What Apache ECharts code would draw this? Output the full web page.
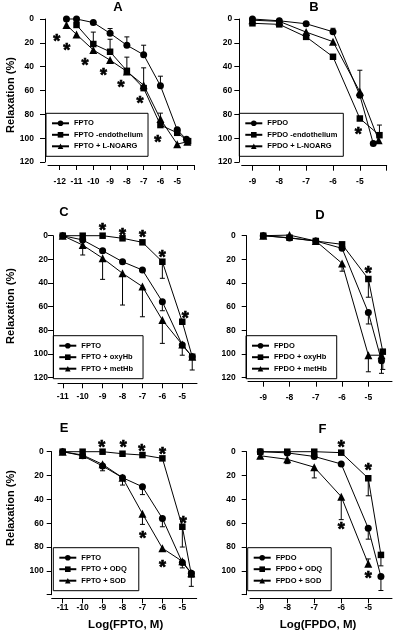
<!DOCTYPE html>
<html><head><meta charset="utf-8">
<script src="https://cdn.jsdelivr.net/npm/echarts@6/dist/echarts.min.js"></script>
<style>html,body{margin:0;padding:0;background:#fff}#c{width:395px;height:640px}</style>
</head><body><div id="c"></div>
<script>
// ---------- tick values ----------
const yTicks = [0, 20, 40, 60, 80, 100, 120];
const yLabelsABCD = [0, 20, 40, 60, 80, 100, 120];
const yLabelsEF = [0, 20, 40, 60, 80, 100];
const xTicksA = [-12, -11, -10, -9, -8, -7, -6, -5, -4];
const xLabelsA = [-12, -11, -10, -9, -8, -7, -6, -5];
const xTicksB = [-9, -8, -7, -6, -5, -4];
const xLabelsB = [-9, -8, -7, -6, -5];
const xTicksCE = [-11, -10, -9, -8, -7, -6, -5];
const xTicksDF = [-9, -8, -7, -6, -5];

// ---------- names ----------
const namesA = ['FPTO', 'FPTO -endothelium', 'FPTO + L-NOARG'];
const namesB = ['FPDO', 'FPDO -endothelium', 'FPDO + L-NOARG'];
const namesC = ['FPTO', 'FPTO + oxyHb', 'FPTO + metHb'];
const namesD = ['FPDO', 'FPDO + oxyHb', 'FPDO + metHb'];
const namesE = ['FPTO', 'FPTO + ODQ', 'FPTO + SOD'];
const namesF = ['FPDO', 'FPDO + ODQ', 'FPDO + SOD'];
const panelLetters = ['A', 'B', 'C', 'D', 'E', 'F'];
const yName = 'Relaxation (%)';
const xNameLeft = 'Log(FPTO, M)';
const xNameRight = 'Log(FPDO, M)';
const starMark = '*';

// ---------- panel A ----------
const aFPTO  = [[-11.6,0],[-11,0],[-10,3],[-9,12],[-8,22],[-7,30],[-6,56],[-5,93],[-4.45,101]];
const aEndo  = [[-11,5],[-10,21],[-9,27.5],[-8,43.5],[-7,58],[-6,89],[-5,95.5],[-4.35,102.5]];
const aNoarg = [[-11.6,5],[-11,13],[-10,26],[-9,34.5],[-8,44],[-7,55.5],[-6,84],[-5,105],[-4.4,103]];
const aFPTOErr  = [[-9,8],[-8,15],[-7,22],[-6,48]];
const aEndoErr  = [[-10,11],[-9,17],[-8,32],[-7,41]];
const aNoargErr = [[-6,79]];
const aStars = [[-12.18,15.7],[-11.59,23.3],[-10.5,35.9],[-9.4,43.7],[-8.35,54],[-7.22,67.5],[-6.16,100.3]];

// ---------- panel B ----------
const bFPDO  = [[-9,0],[-8,1.5],[-7,4],[-6,10.7],[-5,64],[-4.5,104.5]];
const bEndo  = [[-9,3.6],[-8,4.5],[-7,15],[-6,31.7],[-5,83.5],[-4.27,97.5]];
const bNoarg = [[-9,1],[-8,2],[-7,11],[-6,19],[-5,61],[-4.3,101.7]];
const bFPDOErr  = [[-6,7.8],[-5,43]];
const bEndoErr  = [[-4.27,89]];
const bNoargErr = [];
const bStars = [[-5.06,94]];

// ---------- panel C ----------
const cFPTO = [[-11,0],[-10,3.6],[-9,12.7],[-8,22],[-7,29],[-6,55.8],[-5,92.4],[-4.5,102.3]];
const cOxy  = [[-11,0],[-10,0],[-9,0],[-8,2.2],[-7,5.6],[-6,22],[-5,72.7],[-4.5,102.3]];
const cMet  = [[-11,0],[-10,7.9],[-9,19],[-8,31.8],[-7,43],[-6,71.3],[-5,92],[-4.5,102.3]];
const cFPTOErr = [[-6,63.4],[-5,101],[-4.5,113.5]];
const cOxyErr  = [[-6,36]];
const cMetErr  = [[-10,16.3],[-9,36.9],[-8,58.6],[-7,68.5],[-6,91]];
const cStars = [[-9,-7.6],[-8,-3.4],[-7,-2],[-6,14.9],[-4.85,67]];

// ---------- panel D ----------
const dFPDO = [[-9,0],[-8,2],[-7,4.5],[-6,10.7],[-5,65],[-4.5,105.6]];
const dOxy  = [[-9,0],[-8,1.7],[-7,4.5],[-6,7.3],[-5,36.6],[-4.45,98]];
const dMet  = [[-9,0],[-8,-0.5],[-7,4.5],[-6,23.4],[-5,101],[-4.5,101]];
const dFPDOErr = [[-5,74.6],[-4.5,116.3]];
const dOxyErr  = [[-5,52],[-4.45,113]];
const dMetErr  = [[-6,30],[-5,115]];
const dStars = [[-5,29]];

// ---------- panel E ----------
const eFPTO = [[-11,0],[-10,3.4],[-9,12],[-8,21.8],[-7,29.4],[-6,56],[-5,93],[-4.55,102]];
const eODQ  = [[-11,0],[-10,0],[-9,0],[-8,1.7],[-7,2.8],[-6,5.6],[-5,63],[-4.55,103]];
const eSOD  = [[-11,0],[-10,2.8],[-9,10.6],[-8,21.8],[-7,52],[-6,81],[-5,92],[-4.55,102]];
const eFPTOErr = [[-9,16],[-8,28],[-7,36],[-6,63],[-5,97.5],[-4.55,113]];
const eODQErr  = [[-5,80]];
const eSODErr  = [[-7,61]];
const eStars = [[-9.04,-6.5],[-7.96,-6.5],[-7.03,-3.7],[-6,-1],[-4.95,56.7],[-6.98,69.8],[-6,93.6]];

// ---------- panel F ----------
const fFPDO = [[-9,0],[-8,1],[-7,4],[-6,10.3],[-5,64.2],[-4.53,104.8]];
const fODQ  = [[-9,0],[-8,0],[-7,0],[-6,0.8],[-5,22.3],[-4.53,86.6]];
const fSOD  = [[-9,3.4],[-8,6.4],[-7,13],[-6,37.7],[-5,94]];
const fFPDOErr = [[-5,73.4],[-4.53,116.5]];
const fODQErr  = [[-5,37],[-4.53,95.8]];
const fSODErr  = [[-8,10],[-7,22],[-6,57],[-5,90]];
const fStars = [[-6,-6.5],[-5,12.6],[-6,62.3],[-5,103.4]];

// ---------- layout (styles only) ----------
const FONT_N = '"Liberation Sans Narrow","Arial Narrow","Liberation Sans",Arial,sans-serif';
const FONT = '"Liberation Sans",Arial,sans-serif';

const panels = [
  {names:namesA, lines:[aFPTO,aEndo,aNoarg], errs:[aFPTOErr,aEndoErr,aNoargErr], stars:aStars,
   xTicks:xTicksA, xLabels:xLabelsA, yLabels:yLabelsABCD,
   grid:{left:48,top:19,width:146,height:143}, yOff:3, xOff:3, xMin:-12.7, xMax:-4, yMargin:11, xMargin:12,
   legend:{left:46, top:113.3, padding:[6,5,6,5]}},
  {names:namesB, lines:[bFPDO,bEndo,bNoarg], errs:[bFPDOErr,bEndoErr,bNoargErr], stars:bStars,
   xTicks:xTicksB, xLabels:xLabelsB, yLabels:yLabelsABCD,
   grid:{left:241.7,top:19,width:145,height:143}, yOff:2.4, xOff:3.7, xMin:-9.4, xMax:-4, yMargin:7, xMargin:11,
   legend:{left:239.3, top:113.3, padding:[6,6,6,5]}},
  {names:namesC, lines:[cFPTO,cOxy,cMet], errs:[cFPTOErr,cOxyErr,cMetErr], stars:cStars,
   xTicks:xTicksCE, xLabels:xTicksCE, yLabels:yLabelsABCD,
   grid:{left:58,top:235.7,width:139,height:142}, yOff:5, xOff:5.6, xMin:-11.24, xMax:-4.26, yMargin:5, xMargin:9,
   legend:{left:53.3, top:335.7, padding:[6,10,6,5]}},
  {names:namesD, lines:[dFPDO,dOxy,dMet], errs:[dFPDOErr,dOxyErr,dMetErr], stars:dStars,
   xTicks:xTicksDF, xLabels:xTicksDF, yLabels:yLabelsABCD,
   grid:{left:248,top:235.7,width:144,height:142}, yOff:1.3, xOff:4, xMin:-9.58, xMax:-4.1, yMargin:11, xMargin:11,
   legend:{left:246, top:335.7, padding:[6,10,6,5]}},
  {names:namesE, lines:[eFPTO,eODQ,eSOD], errs:[eFPTOErr,eODQErr,eSODErr], stars:eStars,
   xTicks:xTicksCE, xLabels:xTicksCE, yLabels:yLabelsEF,
   grid:{left:51.7,top:451.7,width:145,height:143}, yOff:0, xOff:3.6, xMin:-11.55, xMax:-4.28, yMargin:8, xMargin:5,
   legend:{left:53.3, top:547.7, padding:[6,12,6,5]}},
  {names:namesF, lines:[fFPDO,fODQ,fSOD], errs:[fFPDOErr,fODQErr,fSODErr], stars:fStars,
   xTicks:xTicksDF, xLabels:xTicksDF, yLabels:yLabelsEF,
   grid:{left:250,top:451.7,width:142,height:143}, yOff:3.3, xOff:3.6, xMin:-9.38, xMax:-4.12, yMargin:11, xMargin:5,
   legend:{left:247.7, top:547.7, padding:[6,9,6,5]}}
];
const symbols = ['circle', 'rect', 'triangle'];
const symSizes = [7, 6.5, 8];

const grids = [], xAxes = [], yAxes = [], series = [], legends = [];
panels.forEach((p, gi) => {
  grids.push(Object.assign({containLabel:false}, p.grid));
  xAxes.push({type:'value', gridIndex:gi, min:p.xMin, max:p.xMax, offset:p.xOff,
    splitLine:{show:false},
    axisLine:{show:true, onZero:false, lineStyle:{color:'#000', width:1}},
    axisTick:{show:true, length:5, lineStyle:{color:'#000'}, customValues:p.xTicks},
    axisLabel:{show:true, customValues:p.xLabels, margin:p.xMargin, color:'#000', fontSize:8.5, fontWeight:'bold', fontFamily:FONT_N}
  });
  yAxes.push({type:'value', gridIndex:gi, min:0, max:120, interval:20, inverse:true, offset:p.yOff,
    splitLine:{show:false},
    axisLine:{show:true, onZero:false, lineStyle:{color:'#000', width:1}},
    axisTick:{show:true, length:5, lineStyle:{color:'#000'}, customValues:yTicks},
    axisLabel:{show:true, customValues:p.yLabels, margin:p.yMargin, color:'#000', fontSize:8.5, fontWeight:'bold', fontFamily:FONT_N}
  });
  p.lines.forEach((d, si) => {
    series.push({type:'line', name:p.names[si], data:d, xAxisIndex:gi, yAxisIndex:gi,
      symbol:symbols[si], symbolSize:symSizes[si], showSymbol:true, showAllSymbol:true, clip:false,
      lineStyle:{color:'#000', width:1}, itemStyle:{color:'#000'}, z:4});
    const errData = p.errs[si].map(e => {
      const pt = d.find(q => q[0] === e[0]);
      return [e[0], pt ? pt[1] : e[1], e[1]];
    });
    if (errData.length) series.push({type:'custom', name:'err' + gi + '_' + si, data:errData,
      xAxisIndex:gi, yAxisIndex:gi, z:3, clip:false, silent:true,
      renderItem:(params, api) => {
        const a = api.coord([api.value(0), api.value(1)]);
        const b = api.coord([api.value(0), api.value(2)]);
        return {type:'group', children:[
          {type:'line', shape:{x1:a[0], y1:a[1], x2:b[0], y2:b[1]}, style:{stroke:'#000', lineWidth:1}},
          {type:'line', shape:{x1:b[0]-2.5, y1:b[1], x2:b[0]+2.5, y2:b[1]}, style:{stroke:'#000', lineWidth:1}}
        ]};
      }});
  });
  series.push({type:'custom', name:'stars' + gi, data:p.stars, xAxisIndex:gi, yAxisIndex:gi,
    z:5, clip:false, silent:true,
    renderItem:(params, api) => {
      const c = api.coord([api.value(0), api.value(1)]);
      return {type:'text', x:c[0], y:c[1] + 4.5,
        style:{text:starMark, align:'center', verticalAlign:'middle', fill:'#000', stroke:'#000', lineWidth:0.7,
          font:'bold 18px ' + FONT}};
    }});
  legends.push({data:p.names, orient:'vertical', left:p.legend.left, top:p.legend.top, padding:p.legend.padding,
    itemWidth:17, itemHeight:7, itemGap:3.5, borderColor:'#000', borderWidth:1, selectedMode:false,
    textStyle:{color:'#000', fontSize:7.5, fontWeight:'bold', fontFamily:FONT_N}});
});

const txt = (text, x, y, size, rot) => ({type:'text', x:x, y:y, rotation:rot || 0,
  style:{text:text, x:0, y:0, align:'center', verticalAlign:'middle', fill:'#000', font:'bold ' + size + 'px ' + FONT}});
const graphics = [
  txt(panelLetters[0], 118, 7.5, 13), txt(panelLetters[1], 314, 7.5, 13),
  txt(panelLetters[2], 64, 212.5, 13), txt(panelLetters[3], 320, 215, 13),
  txt(panelLetters[4], 64, 428.5, 13), txt(panelLetters[5], 322.5, 429.5, 13),
  txt(yName, 10.5, 95, 11, Math.PI/2), txt(yName, 10.5, 306, 11, Math.PI/2), txt(yName, 10.5, 508, 11, Math.PI/2),
  txt(xNameLeft, 125.7, 625, 11.5), txt(xNameRight, 318, 625, 11.5)
];

const chart = echarts.init(document.getElementById('c'), null, {renderer:'canvas'});
chart.setOption({animation:false, backgroundColor:'#fff', grid:grids, xAxis:xAxes, yAxis:yAxes,
  series:series, legend:legends, graphic:graphics});
</script></body></html>
